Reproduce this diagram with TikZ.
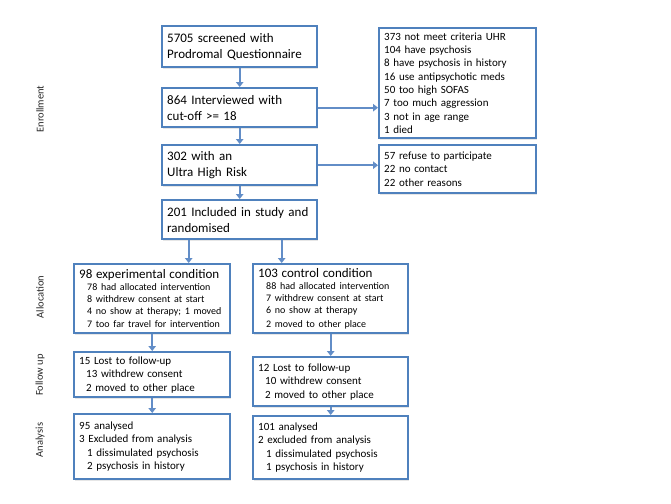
\documentclass[tikz,border=0pt]{standalone}
\usepackage{fontspec}
\setmainfont{Carlito}
\usepackage{xcolor}
\usetikzlibrary{positioning,arrows.meta,shadows}
\definecolor{boxblue}{RGB}{79,129,189}
\definecolor{arrblue}{RGB}{98,141,199}

\begin{document}
\begin{tikzpicture}[x=1pt,y=-1pt,
  box/.style={draw=boxblue, line width=2.4pt, fill=white, anchor=north west,
              inner xsep=5pt, inner ysep=3pt, align=left,
              drop shadow={opacity=0.2, shadow xshift=1pt, shadow yshift=-1.5pt}},
  mainbox/.style={box, text width=145pt, minimum height=40pt,
                  font=\fontsize{13}{16}\selectfont},
  sidebox/.style={box, text width=147pt, inner ysep=2pt,
                  font=\fontsize{11}{13.3}\selectfont},
  armbox/.style={box, text width=146pt, font=\fontsize{11}{13.5}\selectfont},
  phase/.style={rotate=90, font=\fontsize{10.5}{12}\selectfont, text=black!85},
  arr/.style={draw=arrblue, line width=1.8pt, -{Triangle[length=5pt,width=7.5pt]}}]
\useasboundingbox (0,0) rectangle (671,503);

\node[phase] (enr) at (40,109) {Enrollment};
\node[phase] (alc) at (40,297) {Allocation};
\node[phase] (flw) at (40,375) {Follow up};
\node[phase] (ana) at (40,440) {Analysis};

\node[mainbox, minimum height=41pt] (scr) at (161,25) {5705 screened with\\Prodromal Questionnaire};
\node[mainbox, minimum height=39pt] (intv) at (161,87) {864 Interviewed with\\cut-off >= 18};
\node[mainbox] (uhr) at (161,144) {302 with an\\Ultra High Risk};
\node[mainbox, minimum height=39pt] (incl) at (161,199) {201 Included in study and\\randomised};

\node[sidebox, minimum height=110pt] (nomeet) at (378,27) {373 not meet criteria UHR\\
104 have psychosis\\
8 have psychosis in history\\
16 use antipsychotic meds\\
50 too high SOFAS\\
7 too much aggression\\
3 not in age range\\
1 died};
\node[sidebox, minimum height=48pt] (refuse) at (378,144) {57 refuse to participate\\
22 no contact\\
22 other reasons};

\node[armbox, minimum height=69pt] (expc) at (73,263) {{\fontsize{13}{15}\selectfont 98 experimental condition\par}%
\fontsize{10}{12}\selectfont
\hspace*{8pt}78 had allocated intervention\\
\hspace*{8pt}8 withdrew consent at start\\
\hspace*{8pt}4 no show at therapy; 1 moved\\
\hspace*{8pt}7 too far travel for intervention};
\node[armbox, text width=145pt, minimum height=69pt] (ctrl) at (252,263) {{\fontsize{13}{15}\selectfont 103 control condition\par}%
\fontsize{10}{12}\selectfont
\hspace*{8pt}88 had allocated intervention\\
\hspace*{8pt}7 withdrew consent at start\\
\hspace*{8pt}6 no show at therapy\\
\hspace*{8pt}2 moved to other place};

\node[armbox, minimum height=45pt] (fue) at (73,351) {15 Lost to follow-up\\
\hspace*{7pt}13 withdrew consent\\
\hspace*{7pt}2 moved to other place};
\node[armbox, text width=145pt, minimum height=49pt] (fuc) at (252,356) {12 Lost to follow-up\\
\hspace*{7pt}10 withdrew consent\\
\hspace*{7pt}2 moved to other place};

\node[armbox, minimum height=65pt] (ane) at (73,413) {95 analysed\\
3 Excluded from analysis\\
\hspace*{8pt}1 dissimulated psychosis\\
\hspace*{8pt}2 psychosis in history};
\node[armbox, text width=145pt, minimum height=63pt] (anc) at (252,415) {101 analysed\\
2 excluded from analysis\\
\hspace*{8pt}1 dissimulated psychosis\\
\hspace*{8pt}1 psychosis in history};

\draw[arr] (scr) -- (intv);
\draw[arr] (intv) -- (uhr);
\draw[arr] (uhr) -- (incl);
\draw[arr] (intv.east) -- (intv.east -| nomeet.west);
\draw[arr] (uhr.east) -- (uhr.east -| refuse.west);
\draw[arr] ([xshift=-51pt]incl.south) -- ([xshift=-51pt]incl.south |- expc.north);
\draw[arr] ([xshift=42pt]incl.south) -- ([xshift=42pt]incl.south |- ctrl.north);
\draw[arr] (expc) -- (fue);
\draw[arr] (ctrl) -- (fuc);
\draw[arr] (fue) -- (ane);
\draw[arr] (fuc) -- (anc);
\end{tikzpicture}
\end{document}
